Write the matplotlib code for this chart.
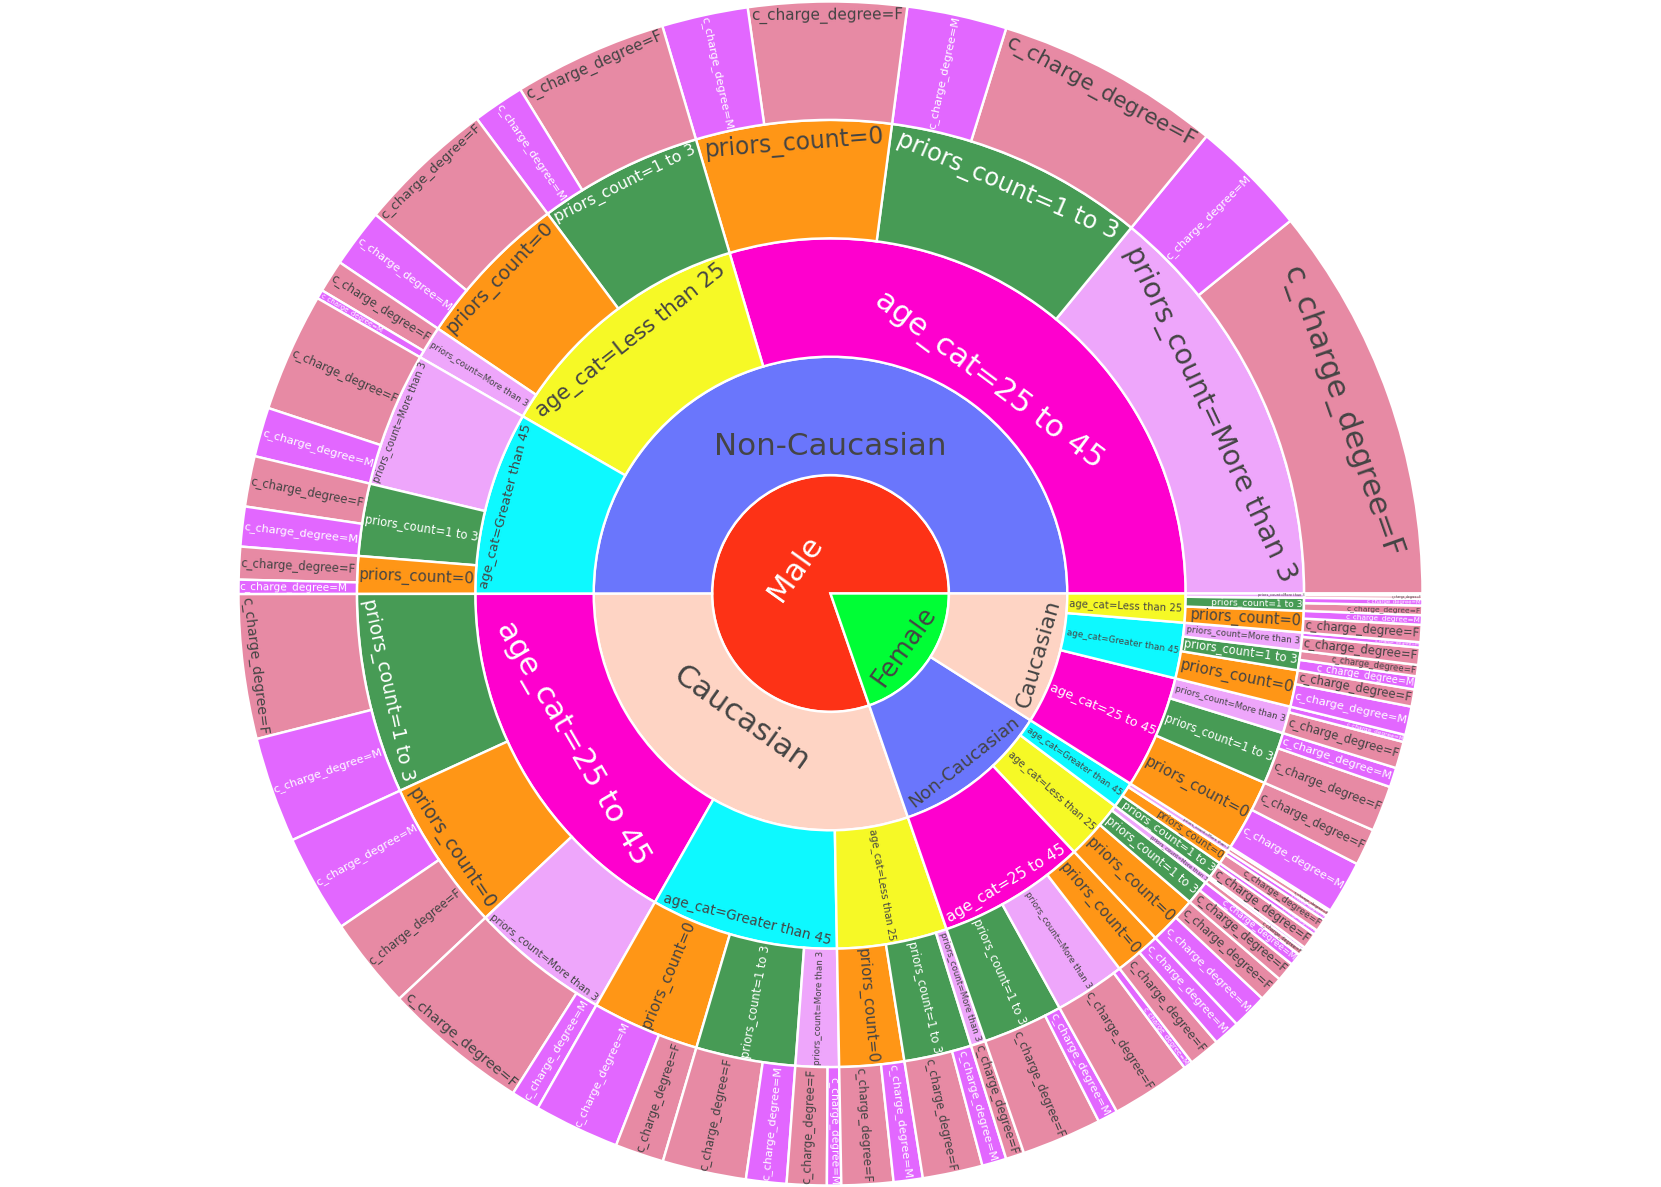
import math
import matplotlib
matplotlib.use("Agg")
import matplotlib.pyplot as plt
from matplotlib.patches import Wedge
from matplotlib.textpath import TextToPath
from matplotlib.font_manager import FontProperties, findfont, get_font

# ---------------- data (counts, listed in drawing order) ----------------
sex_order = ["Male", "Female"]
race_order = ["Non-Caucasian", "Caucasian"]

# (age_cat, priors_count, c_charge_degree, count)
male_noncaucasian = [
    ("25 to 45", "More than 3", "F", 669), ("25 to 45", "More than 3", "M", 198),
    ("25 to 45", "1 to 3", "F", 380), ("25 to 45", "1 to 3", "M", 168),
    ("25 to 45", "0", "F", 266), ("25 to 45", "0", "M", 145),
    ("Less than 25", "1 to 3", "F", 259), ("Less than 25", "1 to 3", "M", 87),
    ("Less than 25", "0", "F", 232), ("Less than 25", "0", "M", 99),
    ("Less than 25", "More than 3", "F", 55), ("Less than 25", "More than 3", "M", 15),
    ("Greater than 45", "More than 3", "F", 200), ("Greater than 45", "More than 3", "M", 83),
    ("Greater than 45", "1 to 3", "F", 85), ("Greater than 45", "1 to 3", "M", 67),
    ("Greater than 45", "0", "F", 55), ("Greater than 45", "0", "M", 24),
]
male_caucasian = [
    ("25 to 45", "1 to 3", "F", 243), ("25 to 45", "1 to 3", "M", 178),
    ("25 to 45", "0", "M", 165), ("25 to 45", "0", "F", 154),
    ("25 to 45", "More than 3", "F", 246), ("25 to 45", "More than 3", "M", 48),
    ("Greater than 45", "0", "M", 144), ("Greater than 45", "0", "F", 82),
    ("Greater than 45", "1 to 3", "F", 141), ("Greater than 45", "1 to 3", "M", 68),
    ("Greater than 45", "More than 3", "F", 67), ("Greater than 45", "More than 3", "M", 24),
    ("Less than 25", "0", "F", 87), ("Less than 25", "0", "M", 49),
    ("Less than 25", "1 to 3", "F", 101), ("Less than 25", "1 to 3", "M", 41),
    ("Less than 25", "More than 3", "F", 31),
]
female_noncaucasian = [
    ("25 to 45", "1 to 3", "F", 135), ("25 to 45", "1 to 3", "M", 34),
    ("25 to 45", "More than 3", "F", 134), ("25 to 45", "More than 3", "M", 15),
    ("25 to 45", "0", "F", 53), ("25 to 45", "0", "M", 45),
    ("Less than 25", "0", "M", 60), ("Less than 25", "0", "F", 43),
    ("Less than 25", "1 to 3", "F", 32), ("Less than 25", "1 to 3", "M", 20),
    ("Less than 25", "More than 3", "F", 10), ("Less than 25", "More than 3", "M", 5),
    ("Greater than 45", "1 to 3", "F", 27), ("Greater than 45", "1 to 3", "M", 8),
    ("Greater than 45", "0", "F", 21), ("Greater than 45", "0", "M", 8),
    ("Greater than 45", "More than 3", "F", 8), ("Greater than 45", "More than 3", "M", 3),
]
female_caucasian = [
    ("25 to 45", "0", "M", 89), ("25 to 45", "0", "F", 62),
    ("25 to 45", "1 to 3", "F", 77), ("25 to 45", "1 to 3", "M", 33),
    ("25 to 45", "More than 3", "F", 45), ("25 to 45", "More than 3", "M", 12),
    ("Greater than 45", "0", "M", 48), ("Greater than 45", "0", "F", 29),
    ("Greater than 45", "1 to 3", "M", 22), ("Greater than 45", "1 to 3", "F", 19),
    ("Greater than 45", "More than 3", "F", 29), ("Greater than 45", "More than 3", "M", 9),
    ("Less than 25", "0", "F", 29), ("Less than 25", "0", "M", 16),
    ("Less than 25", "1 to 3", "F", 16), ("Less than 25", "1 to 3", "M", 11),
    ("Less than 25", "More than 3", "F", 6), ("Less than 25", "More than 3", "M", 3),
]

group_rows = {
    ("Male", "Non-Caucasian"): male_noncaucasian,
    ("Male", "Caucasian"): male_caucasian,
    ("Female", "Non-Caucasian"): female_noncaucasian,
    ("Female", "Caucasian"): female_caucasian,
}

colors = {
    "Male": "#FD3216", "Female": "#00FE35",
    "Non-Caucasian": "#6A76FC", "Caucasian": "#FED4C4",
    "age_cat=25 to 45": "#FE00CE", "age_cat=Greater than 45": "#0DF9FF",
    "age_cat=Less than 25": "#F6F926",
    "priors_count=0": "#FF9616", "priors_count=1 to 3": "#479B55",
    "priors_count=More than 3": "#EEA6FB",
    "c_charge_degree=F": "#DC587D", "c_charge_degree=M": "#D626FF",
}

# ---------------- build the hierarchy ----------------
def new_node(label, depth):
    return {"label": label, "depth": depth, "value": 0, "children": {}}

root = new_node("", -1)
for sex in sex_order:
    for race in race_order:
        rows = group_rows[(sex, race)]
        for age, pri, chg, cnt in rows:
            path = [sex, race, "age_cat=" + age, "priors_count=" + pri,
                    "c_charge_degree=" + chg]
            node = root
            node["value"] += cnt
            for d, lab in enumerate(path):
                if lab not in node["children"]:
                    node["children"][lab] = new_node(lab, d)
                node = node["children"][lab]
                node["value"] += cnt

total = root["value"]
nodes = []

def layout(node, t0):
    t = t0
    for ch in node["children"].values():
        span = ch["value"] / total * 2 * math.pi
        ch["t0"], ch["t1"] = t, t + span
        nodes.append(ch)
        layout(ch, t)
        t += span

layout(root, 0.0)

# ---------------- geometry / style ----------------
W, H, DPI = 1661, 1187, 100
CX, CY = W / 2.0, H / 2.0
U = 118.4            # ring thickness in px
F_PX = 31.0          # nominal label font size in px
TEXTPAD = 7.0
H_EM = 1.10
LINE_PT = 1.75

fig = plt.figure(figsize=(W / DPI, H / DPI), dpi=DPI)
ax = fig.add_axes([0, 0, 1, 1])
ax.set_xlim(0, W)
ax.set_ylim(0, H)
ax.set_aspect("equal")
ax.axis("off")

def hex2rgb(h):
    h = h.lstrip("#")
    return tuple(int(h[i:i + 2], 16) / 255.0 for i in (0, 2, 4))

def blend(c, alpha):
    r, g, b = hex2rgb(c)
    return (r * alpha + (1 - alpha), g * alpha + (1 - alpha), b * alpha + (1 - alpha))

def text_color(c):
    r, g, b = [v * 255 for v in hex2rgb(c)]
    bright = (r * 299 + g * 587 + b * 114) / 1000.0
    return "#ffffff" if bright < 128 else "#444444"

_ttp = TextToPath()
_prop = FontProperties(family="DejaVu Sans", size=100)
_font = get_font(findfont(FontProperties(family="DejaVu Sans")))
_font.set_size(100, 72)
_HF = float(matplotlib.rcParams.get("text.hinting_factor", 8)) or 1.0
try:
    from matplotlib.ft2font import LoadFlags
    _NOHINT = LoadFlags.NO_HINTING
except Exception:
    _NOHINT = 2

def ink_em_width(s):
    w, h, d = _ttp.get_text_width_height_descent(s, _prop, ismath=False)
    return w / 100.0

def text_em_width(s):
    ink = ink_em_width(s)
    try:
        adv = 0.0
        for ch in s:
            g = _font.load_char(ord(ch), flags=_NOHINT)
            adv += g.linearHoriAdvance / 65536.0
        adv_em = adv / 100.0
        for cand in (adv_em, adv_em / _HF):
            if 0.9 * ink <= cand <= 1.3 * ink:
                return cand
    except Exception:
        pass
    return ink + 0.12

def angle_delta(a, b):
    return ((b - a + math.pi) % (2 * math.pi)) - math.pi

def calc_max_half(a, half, r, ring):
    t = math.tan(half)
    q = a + 1.0 / (2.0 * t)
    return r * min(1.0 / (math.sqrt(q * q + 0.5) + q),
                   ring / (math.sqrt(a * a + ring / 2.0) + a))

def calc_rotate(t):
    return (math.degrees(t) + 720.0) % 180.0 - 90.0

def inside_transform(w, h, r0, r1, t0, t1):
    d = angle_delta(t0, t1)
    if d == 0:
        d = math.pi
    half = 0.5 * min(d, math.pi)
    ring = 1.0 - r0 / r1
    mid = 0.5 * (t0 + t1)
    mid_pie = -(mid - math.pi / 2)
    full = (t1 - t0) >= 2 * math.pi - 1e-9
    if r0 == 0 and full:
        rins = 1.0
    else:
        s_ = math.sin(half)
        den = (1.0 + 1.0 / s_) if s_ != 0 else float("inf")
        v = (1.0 / den) if den != 0 else float("inf")
        rins = max(0.0, min(v, ring / 2.0))
    cands = []
    diag = math.hypot(w, h)
    hz = {"scale": rins * r1 * 2 / diag, "rc": 1 - rins, "rot": 0.0}
    if hz["scale"] >= 1:
        return hz, mid
    cands.append(hz)
    rp = max(1e-6, r1 - 2 * TEXTPAD)
    a = w / h
    s = calc_max_half(a, half, rp, ring)
    cands.append({"scale": 2 * s / h, "rc": math.cos(s / rp) - a * s / rp,
                  "rot": calc_rotate(mid_pie)})
    a = h / w
    s = calc_max_half(a, half, rp, ring)
    cands.append({"scale": 2 * s / w, "rc": math.cos(s / rp) - a * s / rp,
                  "rot": calc_rotate(mid_pie + math.pi / 2)})
    best, mx = cands[0], 0.0
    for c in cands:
        if mx < c["scale"]:
            mx, best = c["scale"], c
    return best, mid

# ---------------- draw ----------------
for nd in nodes:
    d = nd["depth"]
    r0, r1 = d * U, (d + 1) * U
    base = colors[nd["label"]]
    is_leaf = len(nd["children"]) == 0
    fc = blend(base, 0.7) if is_leaf else hex2rgb(base)
    wedge = Wedge((CX, CY), r1, math.degrees(nd["t0"]), math.degrees(nd["t1"]),
                  width=(r1 - r0) if r0 > 0 else None,
                  facecolor=fc, edgecolor="white", linewidth=LINE_PT)
    ax.add_patch(wedge)

for nd in nodes:
    d = nd["depth"]
    r0, r1 = d * U, (d + 1) * U
    lab = nd["label"]
    w = text_em_width(lab) * F_PX
    h = H_EM * F_PX
    tr, ang = inside_transform(w, h, r0, r1, nd["t0"], nd["t1"])
    scale = min(1.0, tr["scale"])
    fpx = F_PX * scale
    if fpx < 0.8:
        continue
    rr = tr["rc"] * r1
    x = CX + rr * math.cos(ang)
    y = CY + rr * math.sin(ang)
    ax.text(x, y, lab, fontsize=fpx * 72.0 / DPI, family="DejaVu Sans",
            color=text_color(colors[lab]), rotation=-tr["rot"],
            rotation_mode="anchor", ha="center", va="center")

fig.savefig("out.png", dpi=DPI, facecolor="white")
